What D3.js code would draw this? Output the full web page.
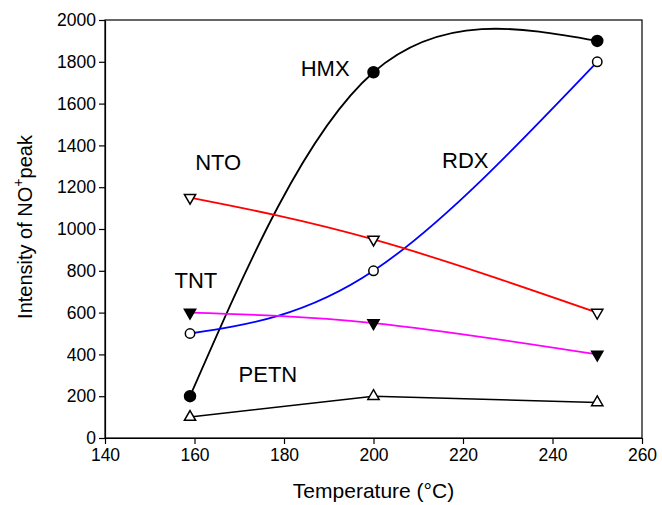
<!DOCTYPE html>
<html>
<head>
<meta charset="utf-8">
<script src="https://cdn.jsdelivr.net/npm/d3@7"></script>
<style>
  body { margin: 0; background: #fff; }
  svg { font-family: Arial, "Liberation Sans", sans-serif; }
</style>
</head>
<body>
<script>
  // temperatures (°C) and NO+ peak intensities
  const temps = [159, 200, 250];
  const hmx  = [200, 1750, 1900];
  const rdx  = [500, 800, 1800];
  const nto  = [1150, 950, 600];
  const tnt  = [600, 550, 400];
  const petn = [100, 200, 170];

  const xTicks = [140, 160, 180, 200, 220, 240, 260];
  const yTicks = [0, 200, 400, 600, 800, 1000, 1200, 1400, 1600, 1800, 2000];

  const series = [
    { name: 'HMX',  values: hmx,  color: '#000', symbol: 'circle',   filled: true,  smooth: true },
    { name: 'RDX',  values: rdx,  color: '#0000ff', symbol: 'circle', filled: false, smooth: true },
    { name: 'NTO',  values: nto,  color: '#ff0000', symbol: 'down',   filled: false, smooth: true },
    { name: 'TNT',  values: tnt,  color: '#ff00ff', symbol: 'down',   filled: true,  smooth: true },
    { name: 'PETN', values: petn, color: '#000', symbol: 'up',       filled: false, smooth: false }
  ];

  // label anchor points, in data units
  const labels = [
    { text: 'HMX',  t: 189.2, v: 1770 },
    { text: 'NTO',  t: 165.3, v: 1320 },
    { text: 'RDX',  t: 220.5, v: 1330 },
    { text: 'TNT',  t: 160.3, v: 756 },
    { text: 'PETN', t: 176.4, v: 306 }
  ];

  const margin = { top: 20, right: 20, bottom: 67, left: 105 };
  const width = 662 - margin.left - margin.right;
  const height = 505 - margin.top - margin.bottom;

  const svg = d3.select('body').append('svg')
    .attr('width', 662)
    .attr('height', 505)
    .append('g')
      .attr('transform', `translate(${margin.left},${margin.top})`);

  const x = d3.scaleLinear().domain([140, 260]).range([0, width]);
  const y = d3.scaleLinear().domain([0, 2000]).range([height, 0]);

  // frame
  svg.append('rect')
    .attr('width', width)
    .attr('height', height)
    .attr('fill', 'none')
    .attr('stroke', '#000')
    .attr('stroke-width', 1.2);

  const xAxis = svg.append('g')
    .attr('transform', `translate(0,${height})`)
    .call(d3.axisBottom(x).tickValues(xTicks).tickFormat(d3.format('d'))
      .tickSize(6).tickPadding(5).tickSizeOuter(0));

  const yAxis = svg.append('g')
    .call(d3.axisLeft(y).tickValues(yTicks).tickFormat(d3.format('d'))
      .tickSize(6).tickPadding(3).tickSizeOuter(0));

  [xAxis, yAxis].forEach(g => {
    g.select('.domain').attr('stroke-width', 1.2);
    g.selectAll('.tick line').attr('stroke-width', 1.2);
    g.selectAll('.tick text')
      .attr('font-size', 17.5)
      .attr('font-family', 'Arial, "Liberation Sans", sans-serif')
      .attr('fill', '#000');
  });

  svg.append('text')
    .attr('x', width / 2)
    .attr('y', height + 60)
    .attr('text-anchor', 'middle')
    .attr('font-size', 21)
    .text('Temperature (°C)');

  const yTitle = svg.append('text')
    .attr('transform', `translate(${-73},${height / 2 - 2}) rotate(-90)`)
    .attr('text-anchor', 'middle')
    .attr('font-size', 20);
  yTitle.append('tspan').text('Intensity of NO');
  yTitle.append('tspan').attr('dy', -9).attr('font-size', 14).text('+');
  yTitle.append('tspan').attr('dy', 9).text('peak');

  series.forEach(s => {
    const pts = temps.map((t, i) => ({ t: t, v: s.values[i] }));
    const line = d3.line()
      .x(d => x(d.t))
      .y(d => y(d.v))
      .curve(s.smooth ? d3.curveNatural : d3.curveLinear);

    svg.append('path')
      .datum(pts)
      .attr('fill', 'none')
      .attr('stroke', s.color)
      .attr('stroke-width', s.name === 'PETN' ? 1.5 : 1.8)
      .attr('d', line);

    let sym;
    if (s.symbol === 'circle') sym = d3.symbol().type(d3.symbolCircle).size(s.filled ? 95 : 70);
    else sym = d3.symbol().type(d3.symbolTriangle).size(55);

    svg.selectAll(null)
      .data(pts)
      .enter().append('path')
      .attr('d', sym)
      .attr('transform', d => {
        let tr = `translate(${x(d.t)},${y(d.v)})`;
        if (s.symbol === 'down') tr += ' rotate(180)';
        return tr;
      })
      .attr('fill', s.filled ? '#000' : '#fff')
      .attr('stroke', '#000')
      .attr('stroke-width', 1.5);
  });

  svg.selectAll('.label')
    .data(labels)
    .enter().append('text')
    .attr('class', 'label')
    .attr('x', d => x(d.t))
    .attr('y', d => y(d.v))
    .attr('dy', '0.35em')
    .attr('text-anchor', 'middle')
    .attr('font-size', 22)
    .text(d => d.text);
</script>
</body>
</html>
